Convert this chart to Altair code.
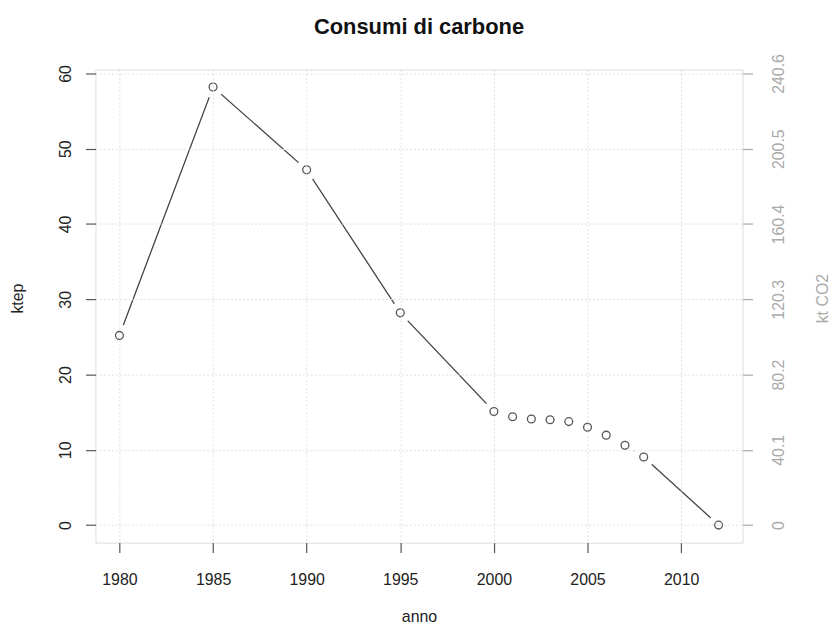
import altair as alt
import pandas as pd

years = [1980, 1985, 1990, 1995, 2000, 2001, 2002, 2003, 2004, 2005, 2006, 2007, 2008, 2012]
ktep = [25.2, 58.2, 47.2, 28.2, 15.1, 14.4, 14.1, 14.0, 13.75, 13.0, 11.95, 10.6, 9.05, 0.0]
x_ticks = [1980, 1985, 1990, 1995, 2000, 2005, 2010]
y_ticks = [0, 10, 20, 30, 40, 50, 60]
co2_ticks = [0, 40.1, 80.2, 120.3, 160.4, 200.5, 240.6]
co2_factor = 240.6 / 60

df = pd.DataFrame({"anno": years, "ktep": ktep})
df["co2"] = df["ktep"] * co2_factor

FONT = "Liberation Sans"
W, H = 651, 476
xdom = [1978.72, 2013.28]
ydom = [-2.328, 60.528]
co2dom = [ydom[0] * co2_factor, ydom[1] * co2_factor]
GRID = "#e0e0e0"
TICK = 10

xenc = alt.X("anno:Q", scale=alt.Scale(domain=xdom, nice=False, zero=False),
             axis=alt.Axis(values=x_ticks, format="d", title="anno", grid=True,
                           gridColor=GRID, gridDash=[2, 2], gridWidth=1,
                           tickSize=TICK, tickColor="#555", tickWidth=1.2, domain=False,
                           labelFont=FONT, labelFontSize=16, labelColor="#222",
                           labelPadding=19, labelFlush=False,
                           titleFont=FONT, titleFontSize=16, titleFontWeight="normal",
                           titleColor="#222", titleX=W / 2, titleY=74,
                           titleBaseline="middle", titleAlign="center", zindex=1))

yscale = alt.Scale(domain=ydom, nice=False, zero=False)
yenc = alt.Y("ktep:Q", scale=yscale,
             axis=alt.Axis(values=y_ticks, title="ktep", grid=True,
                           gridColor=GRID, gridDash=[2, 2], gridWidth=1,
                           tickSize=TICK, tickColor="#555", tickWidth=1.2, domain=False,
                           labelAngle=270, labelAlign="center", labelBaseline="bottom",
                           labelFont=FONT, labelFontSize=16, labelColor="#222",
                           labelPadding=12, labelFlush=False,
                           titleFont=FONT, titleFontSize=16, titleFontWeight="normal",
                           titleColor="#222", titleAngle=270, titleX=-78, titleY=230,
                           titleBaseline="middle", titleAlign="center", zindex=1))
yenc_noaxis = alt.Y("ktep:Q", scale=yscale, axis=None)

base = alt.Chart(df)

line = base.mark_line(color="#444", strokeWidth=1.3).encode(x=xenc, y=yenc)
gaps = base.mark_point(shape="circle", filled=True, color="white", opacity=1,
                       size=480).encode(x=xenc, y=yenc_noaxis)
pts = base.mark_point(shape="circle", filled=False, color="#555", strokeWidth=1.3,
                      opacity=1, size=62).encode(x=xenc, y=yenc_noaxis)

right = base.mark_point(opacity=0).encode(
    x=xenc,
    y=alt.Y("co2:Q", scale=alt.Scale(domain=co2dom, nice=False, zero=False),
            axis=alt.Axis(orient="right", values=co2_ticks, title="kt CO2", grid=False,
                          labelExpr="datum.value == 0 ? '0' : format(datum.value, '.1f')",
                          tickSize=TICK, tickColor="#aaa", tickWidth=1.2, domain=False,
                          labelAngle=270, labelAlign="center", labelBaseline="top",
                          labelFont=FONT, labelFontSize=16, labelColor="#aaa",
                          labelPadding=18, labelFlush=False,
                          titleFont=FONT, titleFontSize=16, titleFontWeight="normal",
                          titleColor="#aaa", titleAngle=270, titleX=80, titleY=230,
                          titleBaseline="middle", titleAlign="center")),
)

chart = alt.layer(line, gaps, pts, right).resolve_scale(y="independent").properties(
    width=W, height=H,
    padding={"left": 88, "top": 60, "right": 90, "bottom": 80},
    autosize=alt.AutoSizeParams(type="none"),
    title=alt.TitleParams("Consumi di carbone", font=FONT, fontSize=22,
                          fontWeight="bold", color="#111", anchor="middle",
                          frame="group", offset=15),
).configure_view(stroke="#555", strokeWidth=1.3).configure(background="white")

chart.save("out.html", embed_options={"renderer": "svg", "actions": False})
